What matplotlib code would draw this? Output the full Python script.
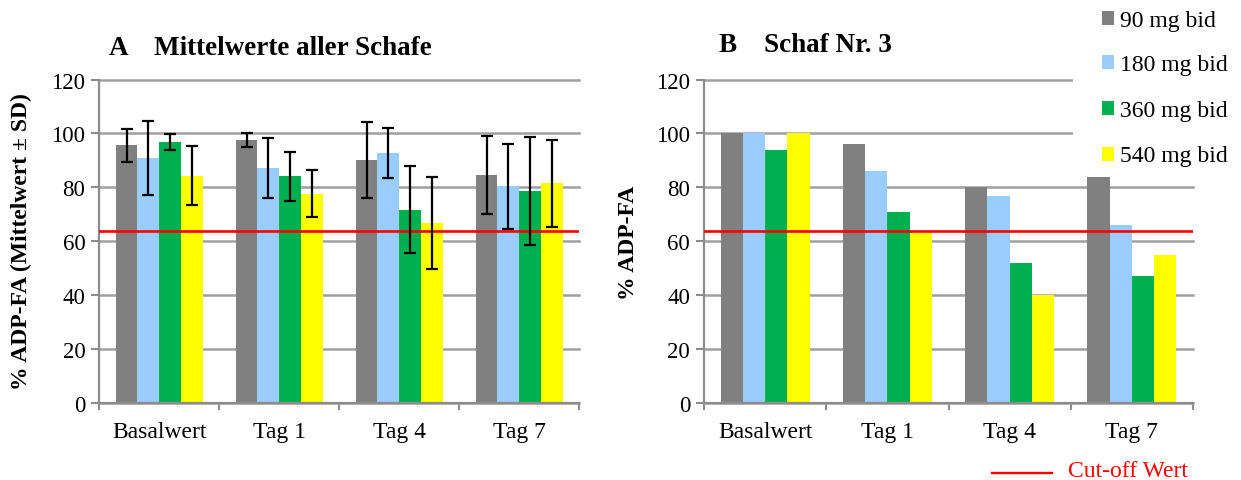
import matplotlib
matplotlib.use("Agg")
import matplotlib.pyplot as plt
import numpy as np
from matplotlib.patches import Rectangle
from matplotlib.lines import Line2D

plt.rcParams['font.family'] = ['Liberation Serif', 'DejaVu Serif']

# ---- data -------------------------------------------------------------
categories = ["Basalwert", "Tag 1", "Tag 4", "Tag 7"]
doses = ["90 mg bid", "180 mg bid", "360 mg bid", "540 mg bid"]
colors = ["#808080", "#99CCFF", "#00B050", "#FFFF00"]

# Panel A: mean of all sheep (% ADP-FA) with standard deviation
mean_90 = [95.6, 97.6, 90.1, 84.6]
mean_180 = [90.9, 87.3, 92.8, 80.4]
mean_360 = [96.9, 84.1, 71.8, 78.8]
mean_540 = [84.4, 77.7, 66.9, 81.5]
sd_90 = [6.2, 2.6, 14.2, 14.3]
sd_180 = [13.7, 11.1, 9.4, 15.7]
sd_360 = [3.0, 9.0, 16.0, 20.0]
sd_540 = [11.0, 8.7, 17.1, 16.1]

# Panel B: sheep no. 3 (% ADP-FA)
sheep3_90 = [100, 96, 80, 84]
sheep3_180 = [100, 86, 77, 66]
sheep3_360 = [94, 71, 52, 47]
sheep3_540 = [100, 63, 40, 55]

cutoff = 64
yticks = [0, 20, 40, 60, 80, 100, 120]

# ---- layout helpers (pixel coordinates of a 1241 x 481 canvas) ----------
W, H = 1241, 481
fig = plt.figure(figsize=(W / 100, H / 100), dpi=100)


def fx(x):
    return x / W


def fy(y):
    return 1 - y / H


AX_TOP, AX_BOT = 80.5, 404.3
axA = fig.add_axes([fx(99.3), fy(AX_BOT), 480 / W, (AX_BOT - AX_TOP) / H])
axB = fig.add_axes([fx(704), fy(AX_BOT), 489 / W, (AX_BOT - AX_TOP) / H])

AXIS_GREY = "#8C8C8C"
GRID_GREY = "#A0A0A0"
bar_w = 1 / 5.5
offsets = (np.arange(4) - 1.5) * bar_w
x = np.arange(len(categories))


def style(ax):
    ax.set_xlim(-0.5, len(categories) - 0.5)
    ax.set_ylim(0, 120)
    ax.set_yticks(yticks)
    ax.set_yticklabels([str(t) for t in yticks], fontsize=16.5)
    for s in ("top", "right"):
        ax.spines[s].set_visible(False)
    for s in ("left", "bottom"):
        ax.spines[s].set_color(AXIS_GREY)
        ax.spines[s].set_linewidth(1.6)
    ax.yaxis.grid(True, color=GRID_GREY, linewidth=1.8)
    for gl in ax.get_ygridlines():
        gl.set_clip_on(False)
    ax.set_axisbelow(True)
    ax.tick_params(axis="y", direction="out", length=6, width=1.5,
                   color=AXIS_GREY, pad=4)
    # category boundaries as tick marks, names centred between them
    ax.set_xticks(np.arange(len(categories) + 1) - 0.5)
    ax.set_xticklabels([])
    ax.tick_params(axis="x", which="major", direction="out", length=5,
                   width=1.5, color=AXIS_GREY)
    ax.set_xticks(x, minor=True)
    ax.set_xticklabels(categories, minor=True, fontsize=17)
    ax.tick_params(axis="x", which="minor", length=0, pad=13)
    ax.axhline(cutoff, color="#FF0000", linewidth=1.9, zorder=3)


# ---- panel A -------------------------------------------------------------
means = [mean_90, mean_180, mean_360, mean_540]
sds = [sd_90, sd_180, sd_360, sd_540]
for i in range(4):
    axA.bar(x + offsets[i], means[i], width=bar_w, color=colors[i],
            edgecolor="none", zorder=2)
    axA.errorbar(x + offsets[i], means[i], yerr=sds[i], fmt="none",
                 ecolor="black", elinewidth=1.6, capsize=4.6, capthick=1.6,
                 zorder=4)
style(axA)

# ---- panel B -------------------------------------------------------------
sheep3 = [sheep3_90, sheep3_180, sheep3_360, sheep3_540]
for i in range(4):
    axB.bar(x + offsets[i], sheep3[i], width=bar_w, color=colors[i],
            edgecolor="none", zorder=2)
style(axB)

# ---- titles and axis labels ----------------------------------------------
fig.text(fx(108.7), fy(55), "A", fontsize=19.5, fontweight="bold",
         ha="left", va="baseline")
fig.text(fx(154), fy(55), "Mittelwerte aller Schafe", fontsize=19.5,
         fontweight="bold", ha="left", va="baseline")
fig.text(fx(718.5), fy(52), "B", fontsize=19.5, fontweight="bold",
         ha="left", va="baseline")
fig.text(fx(763.5), fy(52), "Schaf Nr. 3", fontsize=19.5, fontweight="bold",
         ha="left", va="baseline")

fig.text(fx(21.7), fy(241.5), "% ADP-FA (Mittelwert \u00b1 SD)", fontsize=17,
         fontweight="bold", rotation=90, ha="center", va="center")
fig.text(fx(628.6), fy(242.5), "% ADP-FA", fontsize=17, fontweight="bold",
         rotation=90, ha="center", va="center")

# ---- legend (white box over the top right of panel B) ----------------------
fig.patches.append(Rectangle((fx(1073), fy(170)), fx(W) - fx(1073),
                             fy(0) - fy(170), transform=fig.transFigure,
                             facecolor="white", edgecolor="none", zorder=5))
row_centres = [19.2, 63.3, 109.0, 154.5]
for i, (label, c) in enumerate(zip(doses, colors)):
    yc = row_centres[i]
    fig.patches.append(Rectangle((fx(1102), fy(yc + 7)), 12 / W, 14 / H,
                                 transform=fig.transFigure, facecolor=c,
                                 edgecolor="none", zorder=6))
    fig.text(fx(1120), fy(yc + 7.5), label, fontsize=17, ha="left",
             va="baseline", zorder=6)

fig.lines.append(Line2D([fx(992), fx(1052)], [fy(474.3), fy(474.3)],
                        transform=fig.transFigure, color="#FF0000",
                        linewidth=1.7))
fig.text(fx(1068), fy(477.3), "Cut-off Wert", fontsize=17, color="#FF0000",
         ha="left", va="baseline")

fig.savefig("out.png", dpi=100)
